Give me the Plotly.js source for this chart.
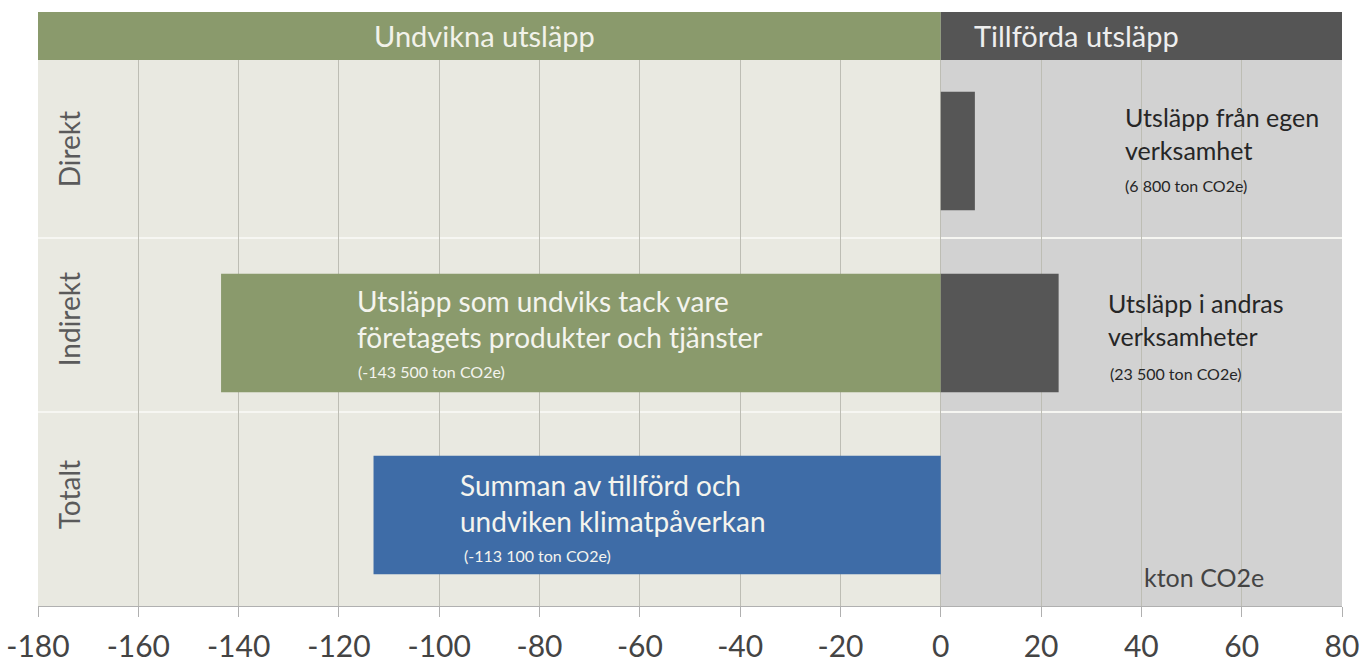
<!DOCTYPE html>
<html>
<head>
<meta charset="utf-8">
<script src="https://cdn.plot.ly/plotly-3.0.1.min.js"></script>
<style>html,body{margin:0;padding:0;background:#fff;}#chart{width:1372px;height:663px;}</style>
</head>
<body>
<div id="chart"></div>
<script>
// Data
const rows = ["Totalt", "Indirekt", "Direkt"]; // bottom to top
const avoidedRows = ["Indirekt"];
const avoidedValues = [-143.5];
const addedRows = ["Direkt", "Indirekt"];
const addedValues = [6.8, 23.5];
const totalRows = ["Totalt"];
const totalValues = [-113.1];
const xTicks = [-180, -160, -140, -120, -100, -80, -60, -40, -20, 0, 20, 40, 60, 80];
const headerLeft = "Undvikna utsläpp";
const headerRight = "Tillförda utsläpp";
const unitLabel = "kton CO2e";

const FONT = "Lato, 'Open Sans', sans-serif";
const GREEN = "#8a9a6c", DARK = "#565656", BLUE = "#3e6ca7";

const traces = [
  {type: "bar", orientation: "h", y: avoidedRows, x: avoidedValues, marker: {color: GREEN}, width: 0.65, hoverinfo: "x"},
  {type: "bar", orientation: "h", y: addedRows, x: addedValues, marker: {color: DARK}, width: 0.65, hoverinfo: "x"},
  {type: "bar", orientation: "h", y: totalRows, x: totalValues, marker: {color: BLUE}, width: 0.65, hoverinfo: "x"}
];

const hdrTop = 1 + 48 / 546;
const shapes = [
  {type: "rect", xref: "x", yref: "paper", x0: -180, x1: 0, y0: 0, y1: 1, fillcolor: "#e9e9e1", line: {width: 0}, layer: "below"},
  {type: "rect", xref: "x", yref: "paper", x0: 0, x1: 80, y0: 0, y1: 1, fillcolor: "#d2d2d2", line: {width: 0}, layer: "below"},
  {type: "rect", xref: "x", yref: "paper", x0: -180, x1: 0, y0: 1, y1: hdrTop, fillcolor: GREEN, line: {width: 0}},
  {type: "rect", xref: "x", yref: "paper", x0: 0, x1: 80, y0: 1, y1: hdrTop, fillcolor: "#555555", line: {width: 0}},
  {type: "line", xref: "paper", yref: "y", x0: 0, x1: 1, y0: 0.566, y1: 0.566, line: {color: "#f6f6f2", width: 2}, layer: "below"},
  {type: "line", xref: "paper", yref: "y", x0: 0, x1: 1, y0: 1.522, y1: 1.522, line: {color: "#f6f6f2", width: 2}, layer: "below"}
];

function ann(text, x, y, size, color, extra) {
  return Object.assign({text: text, x: x, y: y, xref: "x", yref: "y", showarrow: false,
    xanchor: "left", yanchor: "middle", align: "left",
    font: {family: FONT, size: size, color: color}}, extra || {});
}

const WHITE = "#f4f4ee", INK = "#262626";
const annotations = [
  {text: headerLeft, xref: "x", yref: "paper", x: -91, y: 1 + 24 / 546, showarrow: false,
   font: {family: FONT, size: 29, color: "#f2f2ea"}, xanchor: "center", yanchor: "middle"},
  {text: headerRight, xref: "x", yref: "paper", x: 27, y: 1 + 24 / 546, showarrow: false,
   font: {family: FONT, size: 29, color: "#eeeeee"}, xanchor: "center", yanchor: "middle"},
  {text: "Direkt", xref: "paper", yref: "y", x: 0.024, y: 2.011, textangle: -90, showarrow: false,
   font: {family: FONT, size: 28, color: "#5a5a5a"}, xanchor: "center", yanchor: "middle"},
  {text: "Indirekt", xref: "paper", yref: "y", x: 0.024, y: 1.077, textangle: -90, showarrow: false,
   font: {family: FONT, size: 28, color: "#5a5a5a"}, xanchor: "center", yanchor: "middle"},
  {text: "Totalt", xref: "paper", yref: "y", x: 0.024, y: 0.110, textangle: -90, showarrow: false,
   font: {family: FONT, size: 28, color: "#5a5a5a"}, xanchor: "center", yanchor: "middle"},
  ann("Utsläpp som undviks tack vare<br>företagets produkter och tjänster", -116.8, 1.077, 28, WHITE),
  ann("(-143 500 ton CO2e)", -116.6, 0.786, 16, WHITE),
  ann("Summan av tillförd och<br>undviken klimatpåverkan", -96.3, 0.066, 28, WHITE),
  ann("(-113 100 ton CO2e)", -95.5, -0.225, 16, WHITE),
  ann("Utsläpp från egen<br>verksamhet", 36.3, 2.096, 25, INK),
  ann("(6 800 ton CO2e)", 36.3, 1.813, 16, INK),
  ann("Utsläpp i andras<br>verksamheter", 32.9, 1.074, 25, INK),
  ann("(23 500 ton CO2e)", 33.3, 0.780, 16, INK),
  ann(unitLabel, 40.1, -0.341, 25, "#444444")
];

const layout = {
  width: 1372, height: 663,
  margin: {l: 38, r: 30, t: 60, b: 57, pad: 0},
  paper_bgcolor: "#ffffff", plot_bgcolor: "rgba(0,0,0,0)",
  barmode: "overlay",
  showlegend: false,
  font: {family: FONT},
  xaxis: {
    range: [-180, 80], tickvals: xTicks, ticktext: xTicks.map(String),
    showgrid: true, gridcolor: "#bdbdb4", gridwidth: 1, zeroline: false,
    showline: true, linecolor: "#b0b0b0", linewidth: 1,
    ticks: "outside", ticklen: 10, tickcolor: "#b0b0b0", ticklabelstandoff: 4,
    tickfont: {family: FONT, size: 30, color: "#444444"}, fixedrange: true
  },
  yaxis: {
    type: "category", categoryorder: "array", categoryarray: rows,
    range: [-0.5, 2.5], showticklabels: false, showgrid: false, zeroline: false,
    showline: false, ticks: "", fixedrange: true
  },
  shapes: shapes,
  annotations: annotations
};

Plotly.newPlot("chart", traces, layout, {displayModeBar: false, staticPlot: true});
</script>
</body>
</html>
